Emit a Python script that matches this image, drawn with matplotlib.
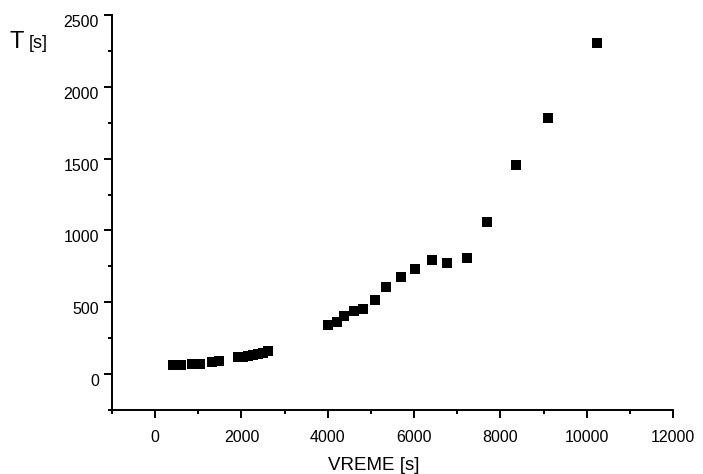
import matplotlib
matplotlib.use("Agg")
import matplotlib.pyplot as plt
from matplotlib.ticker import MultipleLocator

plt.rcParams['font.family'] = ['Liberation Sans', 'DejaVu Sans']

vreme = [425, 597, 846, 1041, 1310, 1472,
         1913, 2030, 2150, 2270, 2390, 2500, 2609,
         4016, 4209, 4387, 4603, 4812, 5083, 5345, 5686, 6018,
         6420, 6768, 7216, 7688, 8352, 9102, 10238]
t_vals = [63, 65, 67, 70, 85, 93,
          118, 122, 128, 135, 143, 150, 160,
          340, 363, 403, 442, 454, 516, 604, 674, 734,
          796, 771, 805, 1060, 1458, 1782, 2308]

fig = plt.figure(figsize=(7.03, 4.74), dpi=100)
ax = fig.add_axes([112 / 703, 1 - 410 / 474, (673 - 112) / 703, (410 - 15) / 474])

ax.plot(vreme, t_vals, linestyle='none', marker='s', markersize=7,
        color='black', markeredgewidth=0)

ax.set_xlim(-1000, 12000)
ax.set_ylim(-250, 2500)
ax.xaxis.set_major_locator(MultipleLocator(2000))
ax.xaxis.set_minor_locator(MultipleLocator(1000))
ax.yaxis.set_major_locator(MultipleLocator(500))
ax.yaxis.set_minor_locator(MultipleLocator(250))

for s in ['top', 'right']:
    ax.spines[s].set_visible(False)
for s in ['left', 'bottom']:
    ax.spines[s].set_linewidth(1.4)

ax.tick_params(axis='both', which='major', direction='out', length=5.5, width=1.4,
               labelsize=11.5, color='black')
ax.tick_params(axis='both', which='minor', direction='out', length=3.2, width=1.4)
ax.tick_params(axis='x', which='major', pad=9)
ax.tick_params(axis='y', which='major', pad=4)
for lab in ax.get_yticklabels():
    lab.set_va('top')

fig.text(374 / 703, 1 - 465 / 474, 'VREME [s]', ha='center', va='center', fontsize=13.5)
fig.text(9 / 703, 1 - 48.5 / 474, 'T', ha='left', va='baseline', fontsize=17)
fig.text(29 / 703, 1 - 48.5 / 474, '[s]', ha='left', va='baseline', fontsize=13)

fig.savefig('out.png', dpi=100)
